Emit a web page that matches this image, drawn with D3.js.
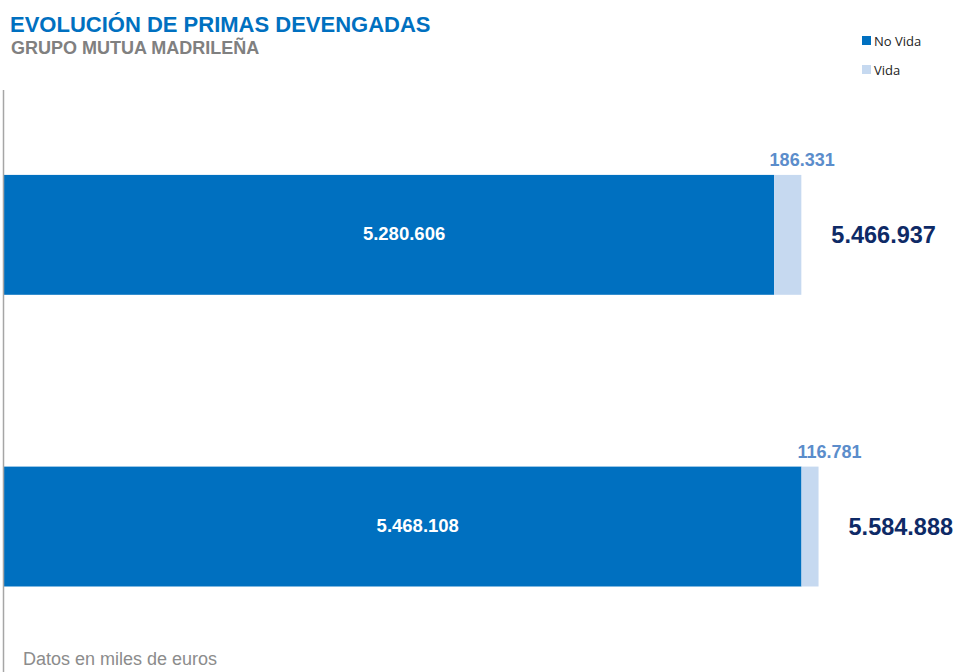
<!DOCTYPE html>
<html>
<head>
<meta charset="utf-8">
<script src="https://cdn.jsdelivr.net/npm/d3@7"></script>
<style>
  html, body { margin: 0; padding: 0; background: #fff; }
  svg { display: block; }
</style>
</head>
<body>
<svg id="chart" width="960" height="672"></svg>
<script>
// Primas devengadas (miles de euros), one stacked bar per period
const periods = ["2022", "2023"];
const noVida = [5280606, 5468108];
const vida = [186331, 116781];
const totals = [5466937, 5584888];
const seriesNames = ["No Vida", "Vida"];
const seriesColors = ["#0070C0", "#C6D9F0"];

const fmt = v => d3.format(",")(v).replace(/,/g, ".");

const svg = d3.select("#chart");

const rows = periods.map((p, i) => ({ period: p, "No Vida": noVida[i], "Vida": vida[i], total: totals[i] }));
const stacked = d3.stack().keys(seriesNames)(rows);

const x = d3.scaleLinear().domain([0, 6500000]).range([4, 952]);
const y = d3.scaleBand().domain(periods).range([89, 672.4]).paddingInner(0.589).paddingOuter(0.2945);
const color = d3.scaleOrdinal().domain(seriesNames).range(seriesColors);

// Titles
svg.append("text").attr("x", 10).attr("y", 32)
  .attr("font-family", "Liberation Sans, Arial, sans-serif").attr("font-weight", "bold")
  .attr("font-size", 22).attr("fill", "#0070C0")
  .text("EVOLUCIÓN DE PRIMAS DEVENGADAS");
svg.append("text").attr("x", 11).attr("y", 54)
  .attr("font-family", "Liberation Sans, Arial, sans-serif").attr("font-weight", "bold")
  .attr("font-size", 18).attr("fill", "#808080")
  .text("GRUPO MUTUA MADRILEÑA");

// Legend
const legend = svg.append("g").attr("transform", "translate(862,36)");
seriesNames.forEach((s, i) => {
  const g = legend.append("g").attr("transform", `translate(0,${i * 29})`);
  g.append("rect").attr("width", 9).attr("height", 9).attr("fill", color(s));
  g.append("text").attr("x", 12).attr("y", 9.5)
    .attr("font-family", "Open Sans, Noto Sans, sans-serif").attr("font-size", 13)
    .attr("fill", "#222").text(s);
});

// Bars
const layers = svg.append("g").selectAll("g").data(stacked).join("g")
  .attr("fill", d => color(d.key));
layers.selectAll("rect").data(d => d).join("rect")
  .attr("x", d => x(d[0]))
  .attr("y", d => y(d.data.period))
  .attr("width", d => x(d[1]) - x(d[0]))
  .attr("height", y.bandwidth());

// Vertical category axis line (no ticks / labels)
const yAxis = d3.axisLeft(y).tickSize(0).tickFormat("");
const ax = svg.append("g").attr("transform", "translate(3.5,0)").call(yAxis);
ax.select(".domain").attr("stroke", "#A6A6A6").attr("stroke-width", 1.5)
  .attr("d", "M0,90V672");

// No Vida values inside the bars
svg.append("g").selectAll("text").data(stacked[0]).join("text")
  .attr("x", d => (x(d[0]) + x(d[1])) / 2 + 15)
  .attr("y", d => y(d.data.period) + y.bandwidth() / 2 + 5)
  .attr("text-anchor", "middle")
  .attr("font-family", "Liberation Sans, Arial, sans-serif").attr("font-weight", "bold")
  .attr("font-size", 18.5).attr("fill", "#fff")
  .text(d => fmt(d.data["No Vida"]));

// Vida values above the light segment
svg.append("g").selectAll("text").data(stacked[1]).join("text")
  .attr("x", d => x(d[0]) + 28)
  .attr("y", d => y(d.data.period) - 9)
  .attr("text-anchor", "middle")
  .attr("font-family", "Liberation Sans, Arial, sans-serif").attr("font-weight", "bold")
  .attr("font-size", 18).attr("fill", "#5B8DCB")
  .text(d => fmt(d.data["Vida"]));

// Totals to the right of each bar
svg.append("g").selectAll("text").data(rows).join("text")
  .attr("x", d => x(d.total) + 30)
  .attr("y", d => y(d.period) + y.bandwidth() / 2 + 8)
  .attr("font-family", "Liberation Sans, Arial, sans-serif").attr("font-weight", "bold")
  .attr("font-size", 23.5).attr("fill", "#0E2A66")
  .text(d => fmt(d.total));

// Footnote
svg.append("text").attr("x", 23).attr("y", 665)
  .attr("font-family", "Liberation Sans, Arial, sans-serif")
  .attr("font-size", 18).attr("fill", "#8C8C8C")
  .text("Datos en miles de euros");
</script>
</body>
</html>
